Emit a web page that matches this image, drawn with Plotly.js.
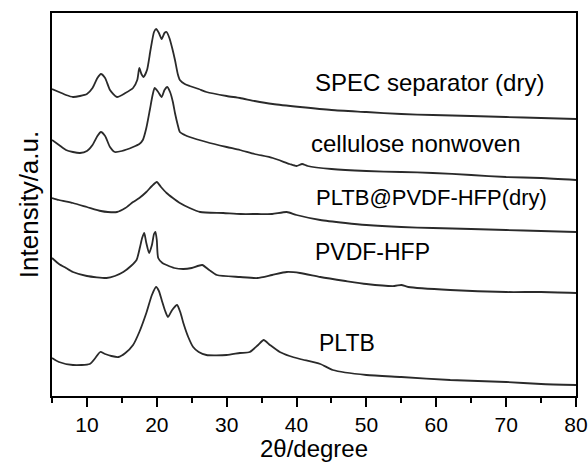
<!DOCTYPE html>
<html>
<head>
<meta charset="utf-8">
<script src="https://cdn.plot.ly/plotly-3.0.1.min.js"></script>
<style>html,body{margin:0;padding:0;background:#fff;}#chart{width:588px;height:462px;}</style>
</head>
<body>
<div id="chart"></div>
<script>
// Sample names (top to bottom)
var sampleNames = ["SPEC separator (dry)", "cellulose nonwoven", "PLTB@PVDF-HFP(dry)", "PVDF-HFP", "PLTB"];

// SPEC separator (dry)
var specX = [5,6,7,8,9,10,10.8,11.5,12,12.6,13.3,14.3,15.5,16.6,17.2,17.5,17.8,18.1,18.6,19.1,19.6,19.9,20.3,20.7,21.1,21.4,21.8,22.2,22.6,23,23.3,24,24.7,26,27.1,30,31.9,34,36.6,40.5,45,50,55,59.5,65,70,75,80];
var specY = [307,304,301,299,300,302,308,318,322,318,306,299,303,308,316,328,322,319,326,346,364,367,363,357,363,364,358,348,336,322,316,312,310,307,304,300,298,295,292,289,286,284,282,281,280,279,278,277];

// cellulose nonwoven
var celX = [5,6,7,8,9,10,10.8,11.5,12,12.6,13.3,14,15,16.6,17.5,18,18.5,19,19.4,19.7,20.2,20.7,21.1,21.5,21.9,22.3,22.6,23,23.3,24,24.7,27.1,30,31.9,34,36.6,39,40,40.8,41.6,45,50,55,59.5,65,70,75,80];
var celY = [256,251,246,244,243,245,251,260,264,260,249,244,245,249,252,256,268,286,301,308,304,299,306,309,304,294,283,271,264,261,259,254,249,246,242,238,232,230,232,230,227,225,224,223,221,219,218,216];

// PLTB@PVDF-HFP(dry)
var compX = [5,6,8,10,12,13,14.3,15.5,16.6,17.5,18.5,19.3,20,20.6,21.4,22.3,23.3,24.7,26.2,29.5,32,34.4,36.5,38.6,40,43.4,47,50,55,59.5,65,70,75,80];
var compY = [198,196,193,189,185,184,184,188,194,198,204,210,214,209,203,198,193,188,184,183,182,182,182,184,181,176,173,171,169,168,167,166,165,164];

// PVDF-HFP
var pvdfX = [5,6,7,8,10,12.8,14,15.2,16.3,17.1,17.6,17.9,18.2,18.5,18.9,19.3,19.6,19.8,20,20.2,20.8,21.4,22.5,23.8,25,26.5,27.5,28.6,31.9,34.4,36.5,38.6,40.5,43.4,47,50,54,55,56,62,70,75,80];
var pvdfY = [138,132,128,124,120,118,120,124,130,136,149,158,163,153,143,151,162,164,156,138,133,131,128,127,128,131,126,121,119,118,121,124,123,119,115,112,110,111,109,106,104,104,103];

// PLTB
var pltbX = [5,6,8,10.4,11.2,11.9,12.6,13.5,14.5,15.5,16.6,17.5,18.5,19.3,19.9,20.3,20.7,21.2,21.6,22.2,22.9,23.4,23.8,24.5,25.2,26,27.1,30,31.9,33.3,34.5,35.3,36.2,37.6,39,40.5,43.4,45.2,50,55,62,70,75,80];
var pltbY = [38,34,31,32,38,44,42,40,39,43,51,64,83,101,109,105,96,85,79,86,91,83,73,59,49,44,41,41,43,44,51,56,51,44,40,37,32,26,21,19,16,14,12,11];

// label anchor positions (x in degrees, y in a.u.)
var labelX = [42.3, 41.8, 42.5, 42.3, 42.9];
var labelY = [314, 253, 199, 144, 53];

var xTickVals = [10,20,30,40,50,60,70,80];

var allX = [specX, celX, compX, pvdfX, pltbX];
var allY = [specY, celY, compY, pvdfY, pltbY];

var FONT = "Liberation Sans, Arial, Helvetica, sans-serif";

var traces = allX.map(function(xs, i){
  return {
    x: xs, y: allY[i], name: sampleNames[i], type: "scatter", mode: "lines",
    line: {color: "#2a2a2a", width: 1.8, shape: "spline", smoothing: 0.6},
    showlegend: false, hoverinfo: "x+y+name"
  };
});

var annotations = sampleNames.map(function(n, i){
  return {
    x: labelX[i], y: labelY[i], xref: "x", yref: "y", text: n, showarrow: false,
    xanchor: "left", yanchor: "middle",
    font: {family: FONT, size: [24, 24, 22, 23, 23][i], color: "#000"}
  };
});

var layout = {
  width: 588, height: 462,
  margin: {l: 52, r: 12, t: 13, b: 66},
  paper_bgcolor: "#fff", plot_bgcolor: "#fff",
  font: {family: FONT, color: "#000"},
  xaxis: {
    range: [5, 80], tickvals: xTickVals, ticktext: xTickVals.map(String),
    ticks: "outside", ticklen: 9, tickwidth: 2, tickcolor: "#000",
    ticklabeloverflow: "allow",
    minor: {dtick: 5, tick0: 5, ticks: "outside", ticklen: 5, tickwidth: 2, tickcolor: "#000", showgrid: false},
    showline: true, linewidth: 2, linecolor: "#000", mirror: true,
    showgrid: false, zeroline: false,
    tickfont: {family: FONT, size: 21, color: "#000"},
    title: {text: "2θ/degree", font: {family: FONT, size: 24, color: "#000"}, standoff: 7}
  },
  yaxis: {
    range: [0, 383], showticklabels: false, ticks: "",
    showline: true, linewidth: 2, linecolor: "#000", mirror: true,
    showgrid: false, zeroline: false,
    title: {text: "Intensity/a.u.", font: {family: FONT, size: 26, color: "#000"}, standoff: 4}
  },
  annotations: annotations
};

Plotly.newPlot("chart", traces, layout, {displayModeBar: false, staticPlot: true});
</script>
</body>
</html>
